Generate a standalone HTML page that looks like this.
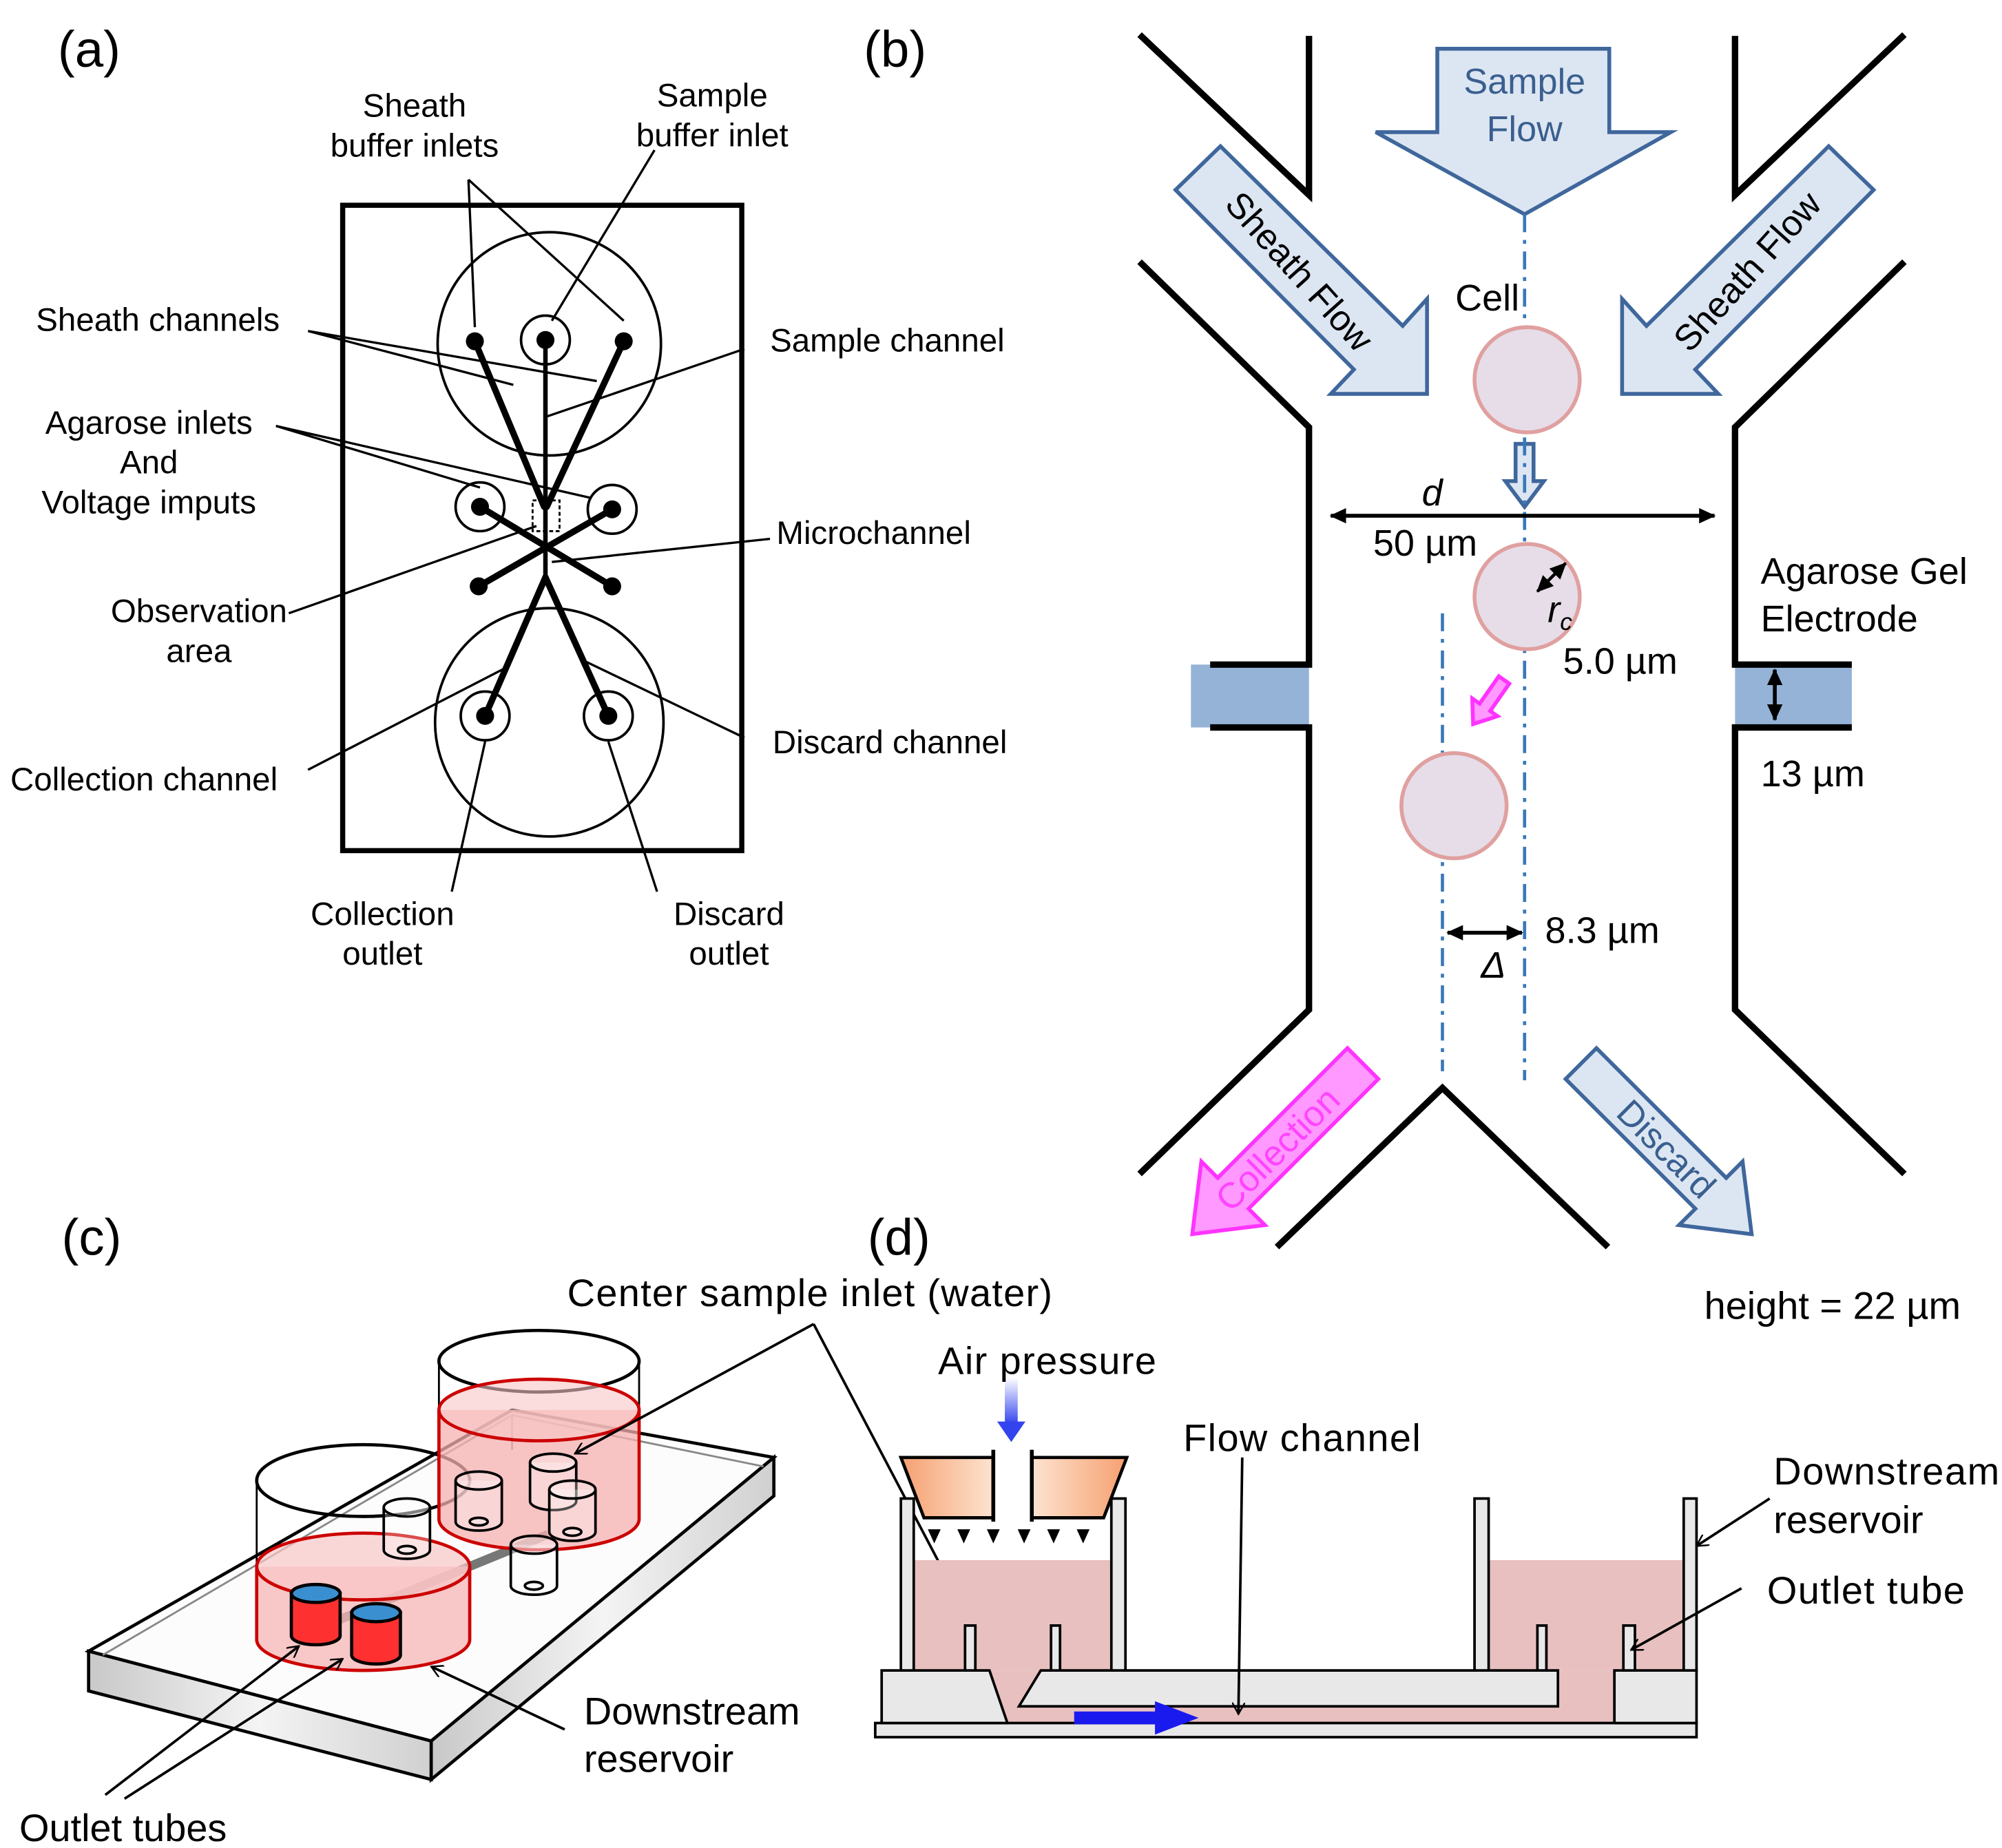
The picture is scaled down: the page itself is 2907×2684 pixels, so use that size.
<!DOCTYPE html>
<html><head><meta charset="utf-8"><style>html,body{margin:0;padding:0;background:#fff}svg{display:block}</style></head>
<body>
<svg width="2907" height="2684" viewBox="0 0 1560 1440.4" xmlns="http://www.w3.org/2000/svg" font-family="Liberation Sans, Arial, sans-serif">
<defs>
<marker id="oa" markerWidth="10" markerHeight="10" refX="9" refY="5" orient="auto" markerUnits="userSpaceOnUse" viewBox="0 0 10 10"><path d="M0,0 L9,5 L0,10" fill="none" stroke="#000" stroke-width="1.3"/></marker>
<marker id="ba" markerWidth="14" markerHeight="14" refX="12" refY="7" orient="auto-start-reverse" markerUnits="userSpaceOnUse"><path d="M0,1 L13,7 L0,13 Z" fill="#000"/></marker>
<linearGradient id="slabF" x1="0" x2="1"><stop offset="0" stop-color="#c8c8c8"/><stop offset="0.5" stop-color="#f4f4f4"/><stop offset="1" stop-color="#d0d0d0"/></linearGradient>
<linearGradient id="orL" x1="0" x2="1"><stop offset="0" stop-color="#f6a070"/><stop offset="1" stop-color="#fde3d0"/></linearGradient>
<linearGradient id="orR" x1="0" x2="1"><stop offset="0" stop-color="#fde3d0"/><stop offset="1" stop-color="#f6a070"/></linearGradient>
<linearGradient id="airG" x1="0" y1="0" x2="0" y2="1"><stop offset="0" stop-color="#fff"/><stop offset="1" stop-color="#3344ee"/></linearGradient>
</defs>

<!-- (a) -->
<text x="45" y="52" font-size="40">(a)</text>
<rect x="267" y="160" width="311" height="503" fill="none" stroke="#000" stroke-width="4"/>
<circle cx="428" cy="268" r="87" fill="none" stroke="#000" stroke-width="2"/>
<circle cx="428" cy="563" r="89" fill="none" stroke="#000" stroke-width="2"/>
<circle cx="425" cy="265" r="19" fill="none" stroke="#000" stroke-width="2"/>
<circle cx="374" cy="395" r="19" fill="none" stroke="#000" stroke-width="2"/>
<circle cx="477" cy="397" r="19" fill="none" stroke="#000" stroke-width="2"/>
<circle cx="378" cy="558" r="19" fill="none" stroke="#000" stroke-width="2"/>
<circle cx="474" cy="558" r="19" fill="none" stroke="#000" stroke-width="2"/>
<g stroke="#000" stroke-width="5" stroke-linecap="round">
<line x1="370" y1="266" x2="424" y2="395"/><line x1="486" y1="266" x2="426" y2="395"/>
<line x1="425" y1="265" x2="425" y2="450" stroke-width="3.5"/>
<line x1="374" y1="395" x2="477" y2="457"/><line x1="477" y1="397" x2="373" y2="457"/>
<line x1="425" y1="450" x2="378" y2="558"/><line x1="425" y1="450" x2="474" y2="558"/>
</g>
<g fill="#000"><circle cx="370" cy="266" r="7"/><circle cx="486" cy="266" r="7"/><circle cx="425" cy="265" r="7"/><circle cx="374" cy="395" r="7"/><circle cx="477" cy="397" r="7"/><circle cx="373" cy="457" r="7"/><circle cx="477" cy="457" r="7"/><circle cx="378" cy="558" r="7"/><circle cx="474" cy="558" r="7"/></g>
<rect x="415" y="390" width="21" height="24" fill="none" stroke="#000" stroke-width="1.5" stroke-dasharray="3,2"/>
<g stroke="#000" stroke-width="1.8" fill="none">
<path d="M365,140 L370,255 M365,140 L486,250"/>
<path d="M510,117 L430,250"/>
<path d="M240,258 L400,300 M240,258 L465,297"/>
<path d="M580,272 L425,325"/>
<path d="M215,332 L374,380 M215,332 L460,388"/>
<path d="M600,420 L430,438"/>
<path d="M225,478 L418,410"/>
<path d="M240,600 L395,520"/>
<path d="M580,575 L455,515"/>
<path d="M352,695 L378,578"/>
<path d="M512,695 L474,578"/>
</g>
<g font-size="25.5" fill="#000">
<text x="323" y="91" text-anchor="middle">Sheath</text><text x="323" y="122" text-anchor="middle">buffer inlets</text>
<text x="555" y="83" text-anchor="middle">Sample</text><text x="555" y="114" text-anchor="middle">buffer inlet</text>
<text x="28" y="258">Sheath channels</text>
<text x="600" y="274">Sample channel</text>
<text x="116" y="338" text-anchor="middle">Agarose inlets</text><text x="116" y="369" text-anchor="middle">And</text><text x="116" y="400" text-anchor="middle">Voltage imputs</text>
<text x="605" y="424">Microchannel</text>
<text x="155" y="485" text-anchor="middle">Observation</text><text x="155" y="516" text-anchor="middle">area</text>
<text x="8" y="616">Collection channel</text>
<text x="602" y="587">Discard channel</text>
<text x="298" y="721" text-anchor="middle">Collection</text><text x="298" y="752" text-anchor="middle">outlet</text>
<text x="568" y="721" text-anchor="middle">Discard</text><text x="568" y="752" text-anchor="middle">outlet</text>
</g>

<!-- (b) -->
<text x="673" y="52" font-size="40">(b)</text>
<rect x="928" y="518" width="92" height="49" fill="#95b3d7"/>
<rect x="1352" y="518" width="91" height="49" fill="#95b3d7"/>
<g stroke="#000" stroke-width="5" fill="none" stroke-linejoin="miter">
<path d="M888,27 L1020,152 L1020,28"/>
<path d="M1484,27 L1352,152 L1352,28"/>
<path d="M888,204 L1020,333 L1020,518 L943,518"/>
<path d="M943,567 L1020,567 L1020,787 L888,915"/>
<path d="M1484,204 L1352,333 L1352,518 L1365,518 L1443,518"/>
<path d="M1443,567 L1352,567 L1352,787 L1484,915"/>
<path d="M995,972 L1124,848 L1253,972"/>
</g>
<g fill="#dce6f2" stroke="#3f679c" stroke-width="3" stroke-linejoin="miter">
<path d="M1120,38 L1254,38 L1254,103 L1302,103 L1188,167 L1072,103 L1120,103 Z"/>
<path d="M951,114 L1093,254 L1112,233 L1112,307 L1037,307 L1055,288 L916,148 Z"/>
<path d="M1425,114 L1283,254 L1264,233 L1264,307 L1339,307 L1321,288 L1460,148 Z"/>
<path d="M1181,346 L1195,346 L1195,375 L1203,375 L1188,395 L1173,375 L1181,375 Z"/>
<g transform="translate(1232,829) rotate(45)"><path d="M0,-17 L143,-17 L143,-35 L188,0 L143,35 L143,17 L0,17 Z"/></g>
</g>
<g fill="#ff99ff" stroke="#ff33ff" stroke-width="3">
<g transform="translate(1062,829) rotate(135)"><path d="M0,-17 L143,-17 L143,-35 L188,0 L143,35 L143,17 L0,17 Z"/></g>
<g transform="translate(1172,530) rotate(125)"><path d="M0,-5 L26,-5 L26,-12 L42,0 L26,12 L26,5 L0,5 Z"/></g>
</g>
<g font-size="28" fill="#3a5f8f">
<text x="1188" y="73" text-anchor="middle">Sample</text><text x="1188" y="110" text-anchor="middle">Flow</text>
</g>
<g font-size="28" fill="#000">
<text transform="translate(1012,212) rotate(48)" text-anchor="middle" dy="9">Sheath Flow</text>
<text transform="translate(1362,212) rotate(-48)" text-anchor="middle" dy="9">Sheath Flow</text>
</g>
<text transform="translate(1298,896) rotate(45)" text-anchor="middle" dy="9" font-size="28" fill="#3a5f8f">Discard</text>
<text transform="translate(996,896) rotate(-45)" text-anchor="middle" dy="9" font-size="28" fill="#ff44ff">Collection</text>
<g stroke="#3a78b8" stroke-width="2.5" stroke-dasharray="14,6,3,6" fill="none">
<line x1="1188" y1="167" x2="1188" y2="842"/>
<line x1="1124" y1="478" x2="1124" y2="835"/>
</g>
<g fill="#e6dde8" stroke="#e0a0a0" stroke-width="3">
<circle cx="1190" cy="296" r="41"/><circle cx="1190" cy="465" r="41"/><circle cx="1133" cy="628" r="41"/>
</g>
<g stroke="#000" stroke-width="3">
<line x1="1037" y1="402" x2="1336" y2="402" marker-start="url(#ba)" marker-end="url(#ba)"/>
<line x1="1198" y1="461" x2="1220" y2="439" marker-start="url(#ba)" marker-end="url(#ba)" stroke-width="2.5"/>
<line x1="1383" y1="522" x2="1383" y2="561" marker-start="url(#ba)" marker-end="url(#ba)"/>
<line x1="1128" y1="727" x2="1186" y2="727" marker-start="url(#ba)" marker-end="url(#ba)"/>
</g>
<g font-size="29" fill="#000">
<text x="1134" y="242">Cell</text>
<text x="1108" y="394" font-style="italic">d</text>
<text x="1070" y="433">50 µm</text>
<text x="1206" y="485" font-style="italic">r<tspan font-size="19" dy="6">c</tspan></text>
<text x="1218" y="525">5.0 µm</text>
<text x="1372" y="455">Agarose Gel</text><text x="1372" y="492">Electrode</text>
<text x="1372" y="613">13 µm</text>
<text x="1204" y="735">8.3 µm</text>
<text x="1154" y="762" font-style="italic">Δ</text>
<text x="1328" y="1028" font-size="30">height = 22 µm</text>
</g>

<!-- (c) -->
<text x="48" y="978" font-size="40">(c)</text>
<polygon points="69,1287 336,1357 603,1136 399,1099" fill="#fbfbfb" fill-opacity="0.7" stroke="#000" stroke-width="2.5"/>
<polygon points="69,1287 336,1357 336,1387 69,1318" fill="url(#slabF)" stroke="#000" stroke-width="2.5"/>
<polygon points="336,1357 603,1136 603,1166 336,1387" fill="url(#slabF)" stroke="#000" stroke-width="2.5"/>
<path d="M80,1290 L399,1103 L399,1130 M399,1103 L595,1143" stroke="#888" stroke-width="1.5" fill="none"/>
<line x1="427" y1="1196" x2="241" y2="1272" stroke="#777" stroke-width="7"/>
<path d="M200,1154 L200,1278" stroke="#000" stroke-width="1.5"/>
<ellipse cx="283" cy="1154" rx="83" ry="28" fill="none" stroke="#000" stroke-width="2.5"/>
<path d="M200,1221 L200,1278 A83,24 0 0 0 366,1278 L366,1221 Z" fill="#f7b6b6" fill-opacity="0.75"/>
<ellipse cx="283" cy="1221" rx="83" ry="26" fill="#f9c7c7" fill-opacity="0.7" stroke="#c00" stroke-width="2.5"/>
<path d="M200,1221 L200,1278 A83,24 0 0 0 366,1278 L366,1221" fill="none" stroke="#c00" stroke-width="2.5"/>
<path d="M342,1061 L342,1184 M498,1061 L498,1184" stroke="#000" stroke-width="1.5"/>
<ellipse cx="420" cy="1061" rx="78" ry="24" fill="#fff" fill-opacity="0.6" stroke="#000" stroke-width="2.5"/>
<path d="M342,1099 L342,1184 A78,24 0 0 0 498,1184 L498,1099 Z" fill="#f7b0b0" fill-opacity="0.75"/>
<ellipse cx="420" cy="1099" rx="78" ry="24" fill="#f9c7c7" fill-opacity="0.6" stroke="#c00" stroke-width="2.5"/>
<path d="M342,1099 L342,1184 A78,24 0 0 0 498,1184 L498,1099" fill="none" stroke="#c00" stroke-width="2.5"/>
<g stroke="#000" stroke-width="2" fill="#fff" fill-opacity="0.3">
<path d="M299,1175 L299,1208 A18,7 0 0 0 335,1208 L335,1175"/><ellipse cx="317" cy="1175" rx="18" ry="7"/><ellipse cx="317" cy="1208" rx="7" ry="3"/>
<path d="M398,1204 L398,1236 A18,7 0 0 0 434,1236 L434,1204"/><ellipse cx="416" cy="1204" rx="18" ry="7"/><ellipse cx="416" cy="1236" rx="7" ry="3"/>
<path d="M355,1154 L355,1186 A18,7 0 0 0 391,1186 L391,1154"/><ellipse cx="373" cy="1154" rx="18" ry="7"/><ellipse cx="373" cy="1186" rx="7" ry="3"/>
<path d="M413,1140 L413,1170 A18,7 0 0 0 449,1170 L449,1140"/><ellipse cx="431" cy="1140" rx="18" ry="7"/>
<path d="M428,1161 L428,1194 A18,7 0 0 0 464,1194 L464,1161"/><ellipse cx="446" cy="1161" rx="18" ry="7"/><ellipse cx="446" cy="1194" rx="7" ry="3"/>
</g>
<g stroke="#000" stroke-width="2.5">
<path d="M227,1242 L227,1275 A19,7 0 0 0 265,1275 L265,1242 Z" fill="#ff3030"/><ellipse cx="246" cy="1242" rx="19" ry="7" fill="#3a8fd0"/>
<path d="M274,1257 L274,1290 A19,7 0 0 0 312,1290 L312,1257 Z" fill="#ff3030"/><ellipse cx="293" cy="1257" rx="19" ry="7" fill="#3a8fd0"/>
</g>
<g stroke="#000" stroke-width="2" fill="none">
<path d="M634,1032 L448,1133" marker-end="url(#oa)"/>
<path d="M634,1032 L757,1266" marker-end="url(#oa)"/>
<path d="M82,1399 L233,1283" marker-end="url(#oa)"/>
<path d="M97,1402 L267,1293" marker-end="url(#oa)"/>
<path d="M440,1348 L336,1299" marker-end="url(#oa)"/>
</g>
<g font-size="30" fill="#000">
<text x="442" y="1018" textLength="378">Center sample inlet (water)</text>
<text x="455" y="1344">Downstream</text><text x="455" y="1381">reservoir</text>
<text x="15" y="1435">Outlet tubes</text>
</g>

<!-- (d) -->
<text x="676" y="978" font-size="40">(d)</text>
<rect x="711" y="1216" width="154" height="86" fill="#e8c0c0"/>
<rect x="1160" y="1216" width="151" height="86" fill="#e8c0c0"/>
<polygon points="771,1302 811,1302 794,1330 1258,1330 1258,1343 785,1343" fill="#e8c0c0"/>
<rect x="1214" y="1302" width="44" height="41" fill="#e8c0c0"/>
<g stroke="#000" stroke-width="2" fill="#e8e8e8">
<rect x="682" y="1343" width="640" height="11"/>
<polygon points="687,1302 771,1302 785,1343 687,1343"/>
<polygon points="811,1302 1214,1302 1214,1330 794,1330"/>
<rect x="1258" y="1302" width="64" height="41"/>
<rect x="702" y="1168" width="10" height="134"/>
<rect x="866" y="1168" width="11" height="134"/>
<rect x="1149" y="1168" width="11" height="134"/>
<rect x="1312" y="1168" width="10" height="134"/>
<rect x="752" y="1267" width="8" height="35"/>
<rect x="819" y="1267" width="7" height="35"/>
<rect x="1198" y="1267" width="7" height="35"/>
<rect x="1265" y="1267" width="9" height="35"/>
</g>
<polygon points="702,1136 774,1136 774,1183 720,1183" fill="url(#orL)" stroke="#000" stroke-width="2.5"/>
<polygon points="804,1136 878,1136 860,1183 804,1183" fill="url(#orR)" stroke="#000" stroke-width="2.5"/>
<line x1="774" y1="1130" x2="774" y2="1186" stroke="#000" stroke-width="3"/>
<line x1="804" y1="1130" x2="804" y2="1186" stroke="#000" stroke-width="3"/>
<g fill="#000">
<path d="M723,1192 h10 l-5,11 z M746,1192 h10 l-5,11 z M769,1192 h10 l-5,11 z M793,1192 h10 l-5,11 z M816,1192 h10 l-5,11 z M839,1192 h10 l-5,11 z"/>
</g>
<rect x="783" y="1074" width="10" height="36" fill="url(#airG)"/>
<polygon points="777,1108 799,1108 788,1124" fill="#3344ee"/>
<rect x="837" y="1334" width="66" height="10" fill="#1a1aee"/>
<polygon points="900,1326 934,1339 900,1352" fill="#1a1aee"/>
<g stroke="#000" stroke-width="2" fill="none">
<path d="M968,1136 L965,1336" marker-end="url(#oa)"/>
<path d="M1379,1168 L1322,1205" marker-end="url(#oa)"/>
<path d="M1357,1238 L1271,1286" marker-end="url(#oa)"/>
</g>
<g font-size="30" fill="#000">
<text x="731" y="1071" textLength="170">Air pressure</text>
<text x="922" y="1131" textLength="185">Flow channel</text>
<text x="1382" y="1157" textLength="176">Downstream</text><text x="1382" y="1195">reservoir</text>
<text x="1377" y="1250" textLength="154">Outlet tube</text>
</g>
</svg>
</body></html>
